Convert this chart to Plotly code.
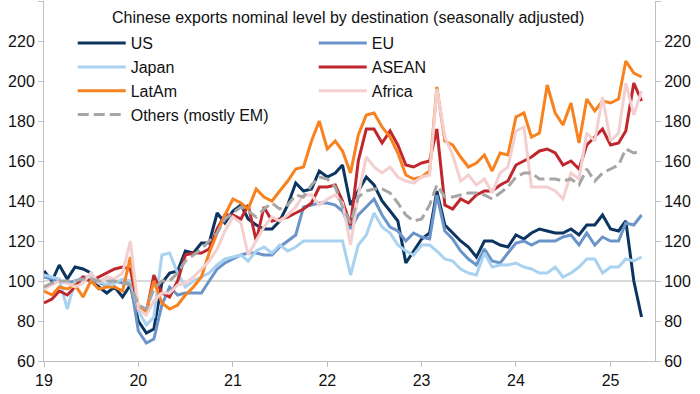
import plotly.graph_objects as go
import pandas as pd

# ---------------- data (monthly, Jan 2019 - May 2025) ----------------
START_MONTH = "2019-01-01"
N_MONTHS = 77
months = pd.date_range(START_MONTH, periods=N_MONTHS, freq="MS")

US = [105, 100, 108, 101, 107, 106, 104, 97, 94, 97, 92, 98,
      80, 74, 76, 99, 104, 105, 115, 114, 119, 119, 134, 129,
      135, 138, 131, 128, 126, 126, 130, 138, 149, 145, 146, 155,
      152, 154, 158, 138, 145, 152, 148, 140, 135, 130, 109, 115,
      121, 124, 145, 128, 124, 120, 117, 112, 120, 120, 118, 117,
      123, 121, 124, 126, 125, 124, 124, 126, 123, 128, 128, 133,
      126, 125, 130, 100, 82]

EU = [102, 101, 100, 99, 100, 101, 100, 99, 98, 100, 99, 100,
      75, 69, 71, 88, 97, 93, 94, 94, 94, 100, 106, 109,
      111, 113, 114, 114, 113, 113, 117, 120, 123, 137, 138, 139,
      139, 138, 135, 126, 133, 137, 141, 133, 127, 125, 120, 124,
      122, 121, 143, 125, 121, 115, 111, 108, 116, 110, 109, 114,
      119, 120, 118, 120, 120, 120, 122, 123, 118, 124, 118, 122,
      120, 120, 129, 128, 133]

Japan = [103, 102, 101, 86, 100, 102, 102, 100, 98, 99, 101, 100,
         85, 78, 82, 113, 114, 104, 97, 100, 102, 104, 108, 111,
         112, 113, 110, 115, 117, 114, 118, 115, 117, 120, 120, 120,
         120, 120, 120, 103, 118, 123, 134, 127, 124, 118, 115, 113,
         118, 118, 115, 111, 110, 106, 104, 103, 114, 107, 108, 108,
         109, 107, 106, 104, 104, 107, 102, 104, 107, 111, 111, 104,
         107, 107, 111, 110, 112]

ASEAN = [89, 91, 95, 93, 97, 102, 100, 102, 104, 106, 107, 106,
         86, 84, 103, 94, 92, 100, 113, 114, 114, 116, 126, 133,
         133, 131, 138, 120, 137, 130, 131, 132, 134, 136, 139, 147,
         147, 148, 140, 128, 160, 176, 176, 169, 175, 168, 158, 157,
         159, 160, 176, 138, 136, 141, 139, 143, 145, 145, 148, 150,
         158, 160, 162, 165, 166, 164, 158, 160, 156, 168, 172, 176,
         168, 169, 175, 199, 190]

LatAm = [95, 93, 97, 96, 98, 92, 100, 96, 97, 97, 95, 112,
         87, 85, 100, 89, 86, 88, 93, 97, 102, 114, 124, 133,
         141, 139, 136, 146, 142, 140, 145, 150, 156, 157, 170, 180,
         166, 170, 165, 154, 173, 183, 184, 177, 172, 164, 153, 151,
         152, 155, 197, 170, 168, 162, 157, 159, 163, 155, 164, 163,
         182, 184, 172, 174, 198, 184, 178, 189, 169, 191, 185, 190,
         189, 191, 210, 204, 202]

Africa = [96, 98, 100, 99, 97, 99, 104, 99, 102, 101, 104, 120,
          86, 83, 90, 94, 94, 98, 99, 102, 106, 110, 116, 125,
          132, 129, 113, 120, 127, 132, 130, 133, 137, 143, 143, 138,
          141, 143, 139, 118, 143, 162, 157, 154, 157, 152, 150, 149,
          152, 153, 196, 172, 163, 150, 153, 148, 151, 144, 154, 157,
          175, 177, 147, 147, 147, 145, 141, 154, 151, 174, 170, 192,
          170, 174, 199, 183, 195]

Others = [97, 99, 100, 100, 100, 101, 101, 100, 100, 100, 99, 98,
          88, 86, 96, 100, 100, 104, 110, 113, 116, 120, 124, 131,
          134, 137, 135, 132, 136, 139, 136, 138, 143, 142, 148, 152,
          151, 147, 137, 129, 142, 145, 146, 146, 144, 139, 133, 130,
          131, 138, 148, 142, 142, 143, 144, 144, 143, 141, 144, 147,
          152, 154, 154, 151, 151, 151, 150, 151, 148, 156, 150, 154,
          156, 158, 166, 164, 165]

SERIES_NAMES = ["US", "EU", "Japan", "ASEAN", "LatAm", "Africa", "Others (mostly EM)"]
SERIES_VALUES = [US, EU, Japan, ASEAN, LatAm, Africa, Others]

X_TICK_YEARS = ["2019-01-01", "2020-01-01", "2021-01-01", "2022-01-01",
                "2023-01-01", "2024-01-01", "2025-01-01"]
X_TICK_LABELS = ["19", "20", "21", "22", "23", "24", "25"]
Y_TICKS = [60, 80, 100, 120, 140, 160, 180, 200, 220, 240]

TITLE = "Chinese exports nominal level by destination (seasonally adjusted)"

# ---------------- styles ----------------
COLORS = ["#0c3461", "#6b95c9", "#a9d2f1", "#c0272d", "#f7821f", "#f4cfcf", "#a6a6a6"]
DASHES = ["solid"] * 6 + ["11px,5px"]
# last series sits on the (identical) right-hand axis so that axis is drawn
YAXES = ["y"] * 6 + ["y2"]
FONT = "Arial, 'Liberation Sans', sans-serif"
AXIS_GREY = "#bfbfbf"
TEXT_COL = "#111111"

fig = go.Figure()
for name, vals, col, dash, ya in zip(SERIES_NAMES, SERIES_VALUES, COLORS, DASHES, YAXES):
    fig.add_trace(go.Scatter(
        x=months, y=vals, name=name, mode="lines", yaxis=ya,
        line=dict(color=col, width=3, dash=dash),
    ))

fig.add_hline(y=100, line=dict(color="#b3b3b3", width=1), layer="below")

fig.add_annotation(
    text=TITLE, xref="paper", yref="paper", x=0.4975, y=0.953,
    xanchor="center", yanchor="middle", showarrow=False,
    font=dict(family=FONT, size=16, color=TEXT_COL),
)

axis_common = dict(
    showgrid=False, zeroline=False, showline=True, linecolor=AXIS_GREY, linewidth=1,
    ticks="outside", ticklen=5, tickcolor=AXIS_GREY, tickwidth=1, automargin=False,
    tickfont=dict(family=FONT, size=16, color=TEXT_COL),
)

fig.update_layout(
    width=700, height=394,
    margin=dict(l=44, r=45, t=1, b=33, autoexpand=False),
    paper_bgcolor="white", plot_bgcolor="white",
    font=dict(family=FONT, size=16, color=TEXT_COL),
    showlegend=True,
    legend=dict(
        orientation="h", x=0.047, xanchor="left", y=0.93, yanchor="top",
        entrywidth=178, entrywidthmode="pixels", itemwidth=48,
        bgcolor="rgba(0,0,0,0)", traceorder="normal",
        font=dict(family=FONT, size=16, color=TEXT_COL),
    ),
    xaxis=dict(
        type="date", range=["2019-01-01", "2025-06-22"],
        tickvals=X_TICK_YEARS, ticktext=X_TICK_LABELS, **axis_common,
    ),
    yaxis=dict(range=[60, 240], tickvals=Y_TICKS, **axis_common),
    yaxis2=dict(range=[60, 240], tickvals=Y_TICKS, overlaying="y", side="right",
                anchor="x", **axis_common),
)

fig.write_html("out.html", config={"displayModeBar": False},
               post_script="document.body.style.margin='0';")
